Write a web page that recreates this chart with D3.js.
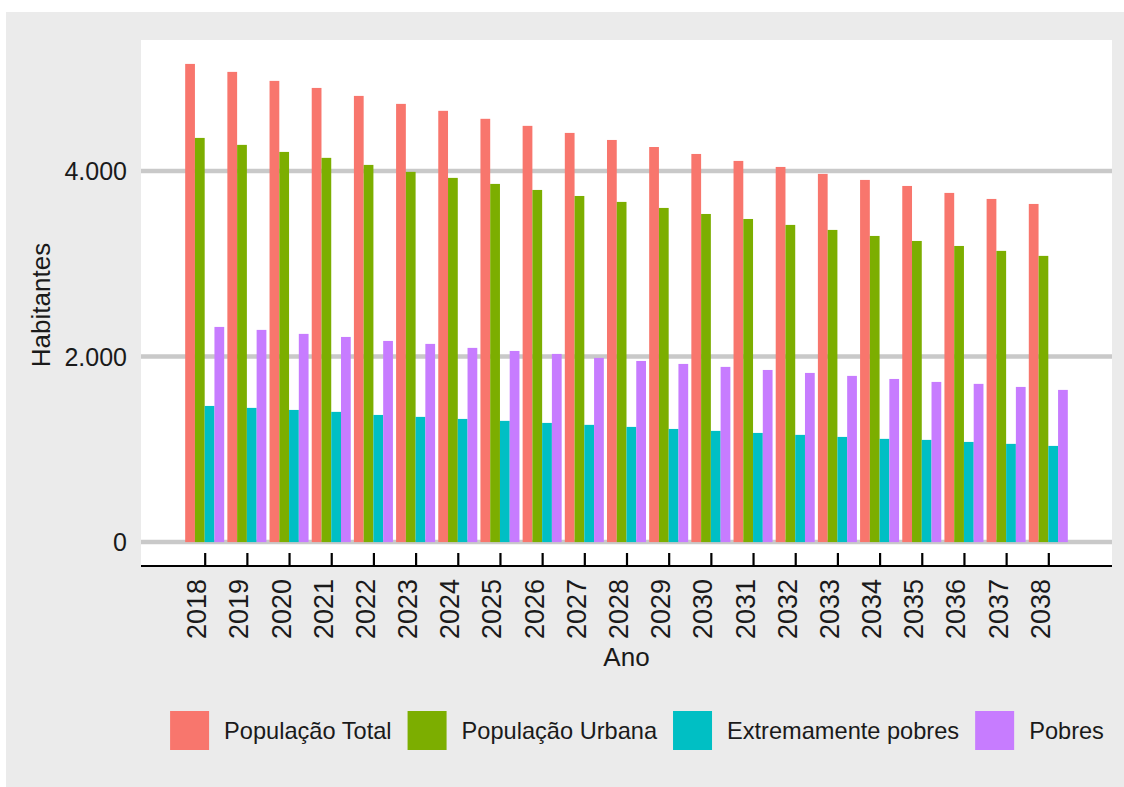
<!DOCTYPE html>
<html>
<head>
<meta charset="utf-8">
<script src="https://cdn.jsdelivr.net/npm/d3@7"></script>
<style>
  body { margin: 0; background: #fff; }
  svg text { font-family: "Liberation Sans", Arial, sans-serif; fill: #1a1a1a; }
</style>
</head>
<body>
<div id="chart"></div>
<script>
const years = ['2018', '2019', '2020', '2021', '2022', '2023', '2024', '2025', '2026', '2027', '2028',
    '2029', '2030', '2031', '2032', '2033', '2034', '2035', '2036', '2037', '2038']

const series = ['População Total', 'População Urbana', 'Extremamente pobres', 'Pobres']

const popTotal = [5156, 5070, 4973, 4897, 4811, 4725, 4650, 4564, 4488, 4412, 4336,
    4260, 4185, 4110, 4045, 3970, 3905, 3840, 3765, 3700, 3646]
const popUrbana = [4358, 4283, 4207, 4143, 4067, 3992, 3927, 3862, 3797, 3732, 3668,
    3603, 3538, 3484, 3420, 3366, 3301, 3247, 3193, 3140, 3086]
const extPobres = [1468, 1447, 1425, 1404, 1371, 1350, 1328, 1307, 1285, 1264, 1242,
    1220, 1199, 1177, 1156, 1134, 1113, 1102, 1080, 1059, 1037]
const pobres = [2320, 2288, 2245, 2212, 2169, 2137, 2094, 2061, 2029, 1986, 1953,
    1921, 1889, 1856, 1824, 1792, 1759, 1727, 1706, 1673, 1641]

const yTicks = [0, 2000, 4000]
const colors = ['#F8766D', '#7CAE00', '#00BFC4', '#C77CFF']

const w = 1124
const h = 787

// panel box
const pLeft = 141, pRight = 1112, pTop = 40, pBottom = 566

const values = [popTotal, popUrbana, extPobres, pobres]
const data = years.map((y, i) => ({ year: y, vals: series.map((s, j) => ({ key: s, v: values[j][i] })) }))

const svg = d3.select('#chart').append('svg')
    .attr('width', w)
    .attr('height', h)

// outer gray background
svg.append('rect').attr('x', 6).attr('y', 12).attr('width', w - 6).attr('height', h - 12).attr('fill', '#ebebeb')
svg.append('rect').attr('x', pLeft).attr('y', pTop).attr('width', pRight - pLeft).attr('height', pBottom - pTop).attr('fill', '#fff')

const maxV = d3.max(popTotal)
const yScale = d3.scaleLinear()
    .domain([-0.05 * maxV, 1.05 * maxV])
    .range([pBottom, pTop])

const x0 = d3.scalePoint()
    .domain(years)
    .range([pLeft, pRight])
    .padding(1.51)

const bw = x0.step() * 0.925
const x1 = d3.scaleBand()
    .domain(series)
    .range([-bw / 2, bw / 2])

const color = d3.scaleOrdinal().domain(series).range(colors)

const fmt = d3.formatLocale({ decimal: ',', thousands: '.', grouping: [3], currency: ['', ''] }).format(',')

// gridlines
svg.append('g').selectAll('line')
    .data(yTicks)
    .enter()
    .append('line')
    .attr('x1', pLeft)
    .attr('x2', pRight)
    .attr('y1', d => yScale(d))
    .attr('y2', d => yScale(d))
    .attr('stroke', '#c9c9c9')
    .attr('stroke-width', 4.5)

// y labels
svg.append('g').selectAll('text')
    .data(yTicks)
    .enter()
    .append('text')
    .attr('x', 127)
    .attr('y', d => yScale(d))
    .attr('dy', '0.36em')
    .attr('text-anchor', 'end')
    .style('font-size', '25px')
    .text(d => fmt(d))

// bars
const groups = svg.append('g').selectAll('g')
    .data(data)
    .enter()
    .append('g')
    .attr('transform', d => `translate(${x0(d.year)},0)`)

groups.selectAll('rect')
    .data(d => d.vals)
    .enter()
    .append('rect')
    .attr('x', d => x1(d.key))
    .attr('width', x1.bandwidth())
    .attr('y', d => yScale(d.v))
    .attr('height', d => yScale(0) - yScale(d.v))
    .attr('fill', d => color(d.key))

// x axis
const xAxis = d3.axisBottom(x0).tickSize(-13).tickFormat('')
const gx = svg.append('g')
    .attr('transform', `translate(0,${pBottom})`)
    .call(xAxis)
gx.select('.domain').attr('stroke', '#000').attr('stroke-width', 2).attr('d', `M${pLeft},0H${pRight}`)
gx.selectAll('.tick line').attr('stroke', '#000').attr('stroke-width', 2.2)

svg.append('g').selectAll('text')
    .data(years)
    .enter()
    .append('text')
    .attr('transform', d => `translate(${x0(d) + 1.5},${pBottom + 13}) rotate(-90)`)
    .attr('text-anchor', 'end')
    .style('font-size', '27px')
    .text(d => d)

// axis titles
svg.append('text')
    .attr('x', (pLeft + pRight) / 2)
    .attr('y', 666)
    .attr('text-anchor', 'middle')
    .style('font-size', '26px')
    .text('Ano')

svg.append('text')
    .attr('transform', `translate(50,${(pTop + pBottom) / 2 + 2}) rotate(-90)`)
    .attr('text-anchor', 'middle')
    .style('font-size', '26px')
    .text('Habitantes')

// legend
const legend = svg.append('g')
const items = legend.selectAll('g')
    .data(series)
    .enter()
    .append('g')
items.append('rect')
    .attr('width', 39)
    .attr('height', 39)
    .attr('y', 711)
    .attr('fill', d => color(d))
items.append('text')
    .attr('x', 54)
    .attr('y', 739)
    .style('font-size', '23.6px')
    .text(d => d)

let pos = 0
const offsets = []
items.each(function (d) {
    offsets.push(pos)
    const tw = d3.select(this).select('text').node().getComputedTextLength()
    pos += 54 + tw + 16
})
const total = pos - 16
const start = 637 - total / 2
items.attr('transform', (d, i) => `translate(${start + offsets[i]},0)`)
</script>
</body>
</html>
